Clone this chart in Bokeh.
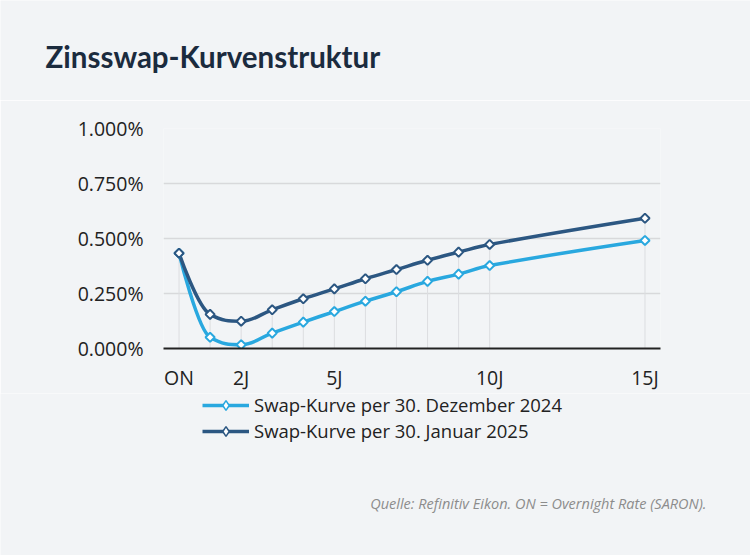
from bokeh.plotting import figure
from bokeh.layouts import column
from bokeh.models import (Range1d, FixedTicker, PrintfTickFormatter, Legend,
                          LegendItem, ColumnDataSource, Label)
from bokeh.embed import file_html
from bokeh.resources import INLINE
import numpy as np

# ---- data ----
tenor_labels = ["ON", "1J", "2J", "3J", "4J", "5J", "6J", "7J", "8J", "9J", "10J", "15J"]
tenor_years = [0, 1, 2, 3, 4, 5, 6, 7, 8, 9, 10, 15]
dez_2024 = [0.433, 0.051, 0.017, 0.070, 0.120, 0.168, 0.215, 0.258, 0.305, 0.338, 0.377, 0.491]
jan_2025 = [0.433, 0.155, 0.124, 0.176, 0.226, 0.271, 0.317, 0.359, 0.401, 0.438, 0.473, 0.592]
tick_years = [0, 2, 5, 10, 15]
tick_labels = ["ON", "2J", "5J", "10J", "15J"]
y_ticks = [0, 0.25, 0.5, 0.75, 1.0]
series_names = ["Swap-Kurve per 30. Dezember 2024", "Swap-Kurve per 30. Januar 2025"]
title_text = "Zinsswap-Kurvenstruktur"
source_text = "Quelle: Refinitiv Eikon. ON = Overnight Rate (SARON)."

BG = "#f2f4f6"
C_LIGHT = "#29a8df"
C_DARK = "#2c5782"
TXT = "#222222"
FONT = "Open Sans"
W = 750
H_HEAD, H_MAIN, H_FOOT = 100, 293, 162


def spline_segments(xs, ys, smoothing=1.5):
    """Cubic bezier control points (Highcharts-style spline) for drawing."""
    n = len(xs)
    denom = smoothing + 1
    left = [None] * n
    right = [None] * n
    for i in range(1, n - 1):
        px, py = xs[i], ys[i]
        lx, ly = xs[i - 1], ys[i - 1]
        nx, ny = xs[i + 1], ys[i + 1]
        lcx = (smoothing * px + lx) / denom
        lcy = (smoothing * py + ly) / denom
        rcx = (smoothing * px + nx) / denom
        rcy = (smoothing * py + ny) / denom
        corr = 0.0
        if rcx != lcx:
            corr = ((rcy - lcy) * (rcx - px)) / (rcx - lcx) + py - rcy
        lcy += corr
        rcy += corr
        if lcy > ly and lcy > py:
            lcy = max(ly, py); rcy = 2 * py - lcy
        elif lcy < ly and lcy < py:
            lcy = min(ly, py); rcy = 2 * py - lcy
        if rcy > ny and rcy > py:
            rcy = max(ny, py); lcy = 2 * py - rcy
        elif rcy < ny and rcy < py:
            rcy = min(ny, py); lcy = 2 * py - rcy
        left[i] = (lcx, lcy)
        right[i] = (rcx, rcy)
    d = dict(x0=[], y0=[], x1=[], y1=[], cx0=[], cy0=[], cx1=[], cy1=[])
    for i in range(1, n):
        c0 = right[i - 1] if right[i - 1] else (xs[i - 1], ys[i - 1])
        c1 = left[i] if left[i] else (xs[i], ys[i])
        d["x0"].append(xs[i - 1]); d["y0"].append(ys[i - 1])
        d["x1"].append(xs[i]); d["y1"].append(ys[i])
        d["cx0"].append(c0[0]); d["cy0"].append(c0[1])
        d["cx1"].append(c1[0]); d["cy1"].append(c1[1])
    return ColumnDataSource(d)


def blank_fig(h):
    f = figure(width=W, height=h, output_backend="svg", toolbar_location=None,
               title=None, x_range=Range1d(0, W), y_range=Range1d(h, 0),
               x_axis_type=None, y_axis_type=None, min_border=0,
               background_fill_color=BG, border_fill_color=BG,
               outline_line_color=None, frame_align=False)
    f.grid.visible = False
    return f


# ---- header with title ----
head = blank_fig(H_HEAD)
head.add_layout(Label(x=45, y=56, text=title_text, text_font="Lato",
                      text_font_style="bold", text_font_size="29.5px",
                      text_color="#1b2b3e", text_baseline="alphabetic"))

# ---- main chart ----
p = figure(width=W, height=H_MAIN, output_backend="svg", toolbar_location=None,
           title=None, x_range=Range1d(-0.5, 15.5), y_range=Range1d(0, 1.0),
           min_border_left=163, min_border_right=90, min_border_top=28,
           min_border_bottom=45, background_fill_color=BG, border_fill_color=BG,
           outline_line_color=None, frame_align=False)

p.xgrid.grid_line_color = None
p.ygrid.ticker = FixedTicker(ticks=y_ticks)
p.ygrid.grid_line_color = "#d8d9db"
p.ygrid.grid_line_width = 1.5

p.yaxis.ticker = FixedTicker(ticks=y_ticks)
p.yaxis.formatter = PrintfTickFormatter(format="%.3f%%")
p.yaxis.axis_line_color = None
p.yaxis.major_tick_line_color = None
p.yaxis.minor_tick_line_color = None
p.yaxis.major_tick_out = 0
p.yaxis.major_label_standoff = 20
p.xaxis.ticker = FixedTicker(ticks=tick_years)
p.xaxis.major_label_overrides = {t: l for t, l in zip(tick_years, tick_labels)}
p.xaxis.axis_line_color = "#222222"
p.xaxis.axis_line_width = 2
p.xaxis.major_tick_line_color = None
p.xaxis.minor_tick_line_color = None
p.xaxis.major_tick_out = 0
p.xaxis.major_label_standoff = 15
for ax in (p.xaxis, p.yaxis):
    ax.major_label_text_font = FONT
    ax.major_label_text_font_size = "19.5px"
    ax.major_label_text_color = TXT

# vertical guide lines at each tenor
p.segment(x0=tenor_years, y0=[0] * len(tenor_years), x1=tenor_years,
          y1=[max(a, b) for a, b in zip(dez_2024, jan_2025)],
          line_color="#dcdde0", line_width=1)

for ys, col in ((dez_2024, C_LIGHT), (jan_2025, C_DARK)):
    src = spline_segments(tenor_years, ys)
    p.bezier(x0="x0", y0="y0", x1="x1", y1="y1", cx0="cx0", cy0="cy0",
             cx1="cx1", cy1="cy1", source=src, line_color=col, line_width=3.5,
             line_cap="round")
for ys, col in ((dez_2024, C_LIGHT), (jan_2025, C_DARK)):
    p.scatter(tenor_years, ys, marker="square", size=6.5, angle=np.pi / 4,
              fill_color="white", line_color=col, line_width=2)

# ---- footer with legend and source ----
foot = blank_fig(H_FOOT)
for (name, col, ys), loc_y in zip(
        zip(series_names, (C_LIGHT, C_DARK), (dez_2024, jan_2025)), (138, 112)):
    # hidden proxy renderers that only provide the legend symbol
    lr = foot.line(x=tenor_years[:1], y=ys[:1], line_color=col, line_width=3.5,
                   visible=False)
    sr = foot.scatter(x=tenor_years[:1], y=ys[:1], marker="diamond", size=6,
                      fill_color="white", line_color=col,
                      line_width=1.5, visible=False)
    leg = Legend(items=[LegendItem(label=name, renderers=[lr, sr])],
                 location=(202, loc_y), orientation="vertical",
                 padding=0, margin=0, spacing=0, glyph_width=47, glyph_height=24,
                 label_height=16, label_standoff=5, label_text_font=FONT,
                 label_text_font_size="18.5px", label_text_color=TXT,
                 background_fill_alpha=0, border_line_alpha=0,
                 inactive_fill_alpha=0, click_policy="none")
    foot.add_layout(leg)
foot.add_layout(Label(x=706, y=110, text=source_text, text_font=FONT,
                      text_font_style="italic", text_font_size="14.5px",
                      text_color="#8c8c8c", text_align="right",
                      text_baseline="alphabetic"))

layout = column(head, p, foot, spacing=0)
open("out.html", "w").write(file_html(layout, INLINE))
